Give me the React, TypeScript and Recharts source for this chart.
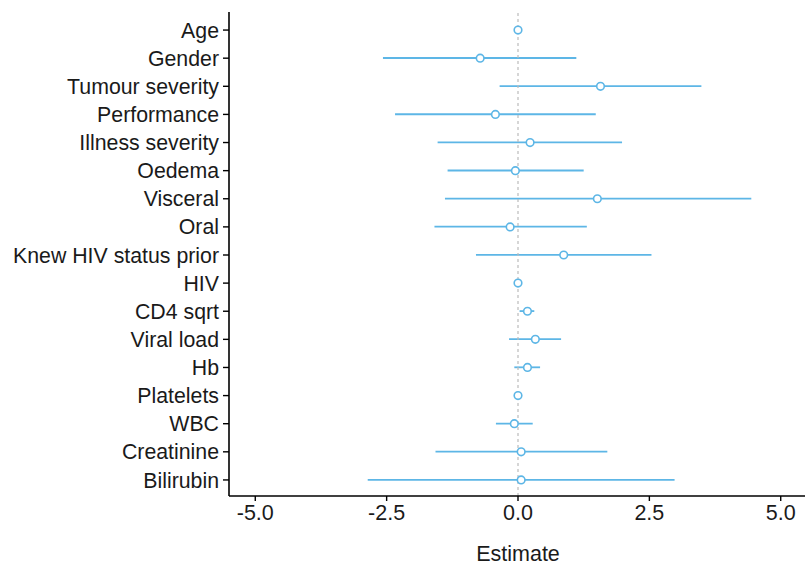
import { ComposedChart, Bar, Line, XAxis, YAxis, ReferenceLine } from 'recharts';

const labels = [
  'Age', 'Gender', 'Tumour severity', 'Performance', 'Illness severity', 'Oedema', 'Visceral', 'Oral',
  'Knew HIV status prior', 'HIV', 'CD4 sqrt', 'Viral load', 'Hb', 'Platelets', 'WBC', 'Creatinine', 'Bilirubin',
];
const estimates = [0.0, -0.72, 1.57, -0.43, 0.23, -0.05, 1.51, -0.15, 0.87, 0.0, 0.18, 0.33, 0.18, 0.0, -0.07, 0.06, 0.06];
const lower = [-0.02, -2.57, -0.35, -2.34, -1.53, -1.34, -1.39, -1.59, -0.8, -0.01, 0.03, -0.17, -0.07, -0.01, -0.42, -1.57, -2.86];
const upper = [0.02, 1.11, 3.49, 1.48, 1.98, 1.25, 4.44, 1.31, 2.54, 0.01, 0.31, 0.82, 0.42, 0.01, 0.28, 1.7, 2.98];
const xTicks = [-5, -2.5, 0, 2.5, 5];

const BLUE = '#5db6e6';
const FONT = '"Liberation Sans", Arial, sans-serif';

const data = labels.map((name, i) => ({
  name,
  est: estimates[i],
  ci: [lower[i], upper[i]],
}));

const HollowDot = (props: any) => {
  const { cx, cy, index } = props;
  if (cx == null || cy == null) return null;
  return <circle key={`dot-${index}`} cx={cx} cy={cy} r={3.8} fill="#fff" stroke={BLUE} strokeWidth={1.6} />;
};

const App = () => {
  return (
    <div style={{ position: 'fixed', left: 0, top: 0, width: 805, height: 566, overflow: 'hidden', background: '#fff' }}>
      <ComposedChart
        width={810}
        height={566}
        data={data}
        layout="vertical"
        margin={{ top: 12, right: 3, bottom: 0, left: 0 }}
        style={{ fontFamily: FONT }}
      >
        <XAxis
          type="number"
          domain={[-5.5, 5.5]}
          allowDataOverflow
          ticks={xTicks}
          tickFormatter={(v: number) => v.toFixed(1)}
          height={70}
          tickSize={5}
          tickMargin={4}
          axisLine={{ stroke: '#000', strokeWidth: 1.6 }}
          tickLine={{ stroke: '#000', strokeWidth: 1.4 }}
          tick={{ fill: '#1a1a1a', fontSize: 21.5 }}
          label={{ value: 'Estimate', position: 'insideBottom', offset: 5, fill: '#1a1a1a', fontSize: 21.5 }}
        />
        <XAxis
          xAxisId="top"
          orientation="top"
          type="number"
          domain={[-5.5, 5.5]}
          height={0}
          tick={false}
          tickLine={false}
          axisLine={{ stroke: '#666', strokeWidth: 1.2 }}
        />
        <YAxis
          type="category"
          dataKey="name"
          width={229}
          interval={0}
          padding={{ top: 4, bottom: 2 }}
          tickSize={6}
          tickMargin={4}
          axisLine={{ stroke: '#000', strokeWidth: 1.6 }}
          tickLine={{ stroke: '#000', strokeWidth: 1.4 }}
          tick={{ fill: '#1a1a1a', fontSize: 21.3 }}
        />
        <ReferenceLine x={0} stroke="#bbb" strokeDasharray="3 3" strokeWidth={1.2} />
        <Bar dataKey="ci" barSize={1.8} fill={BLUE} isAnimationActive={false} />
        <Line
          dataKey="est"
          stroke="none"
          dot={<HollowDot />}
          activeDot={false}
          isAnimationActive={false}
        />
      </ComposedChart>
    </div>
  );
};

export default App;
